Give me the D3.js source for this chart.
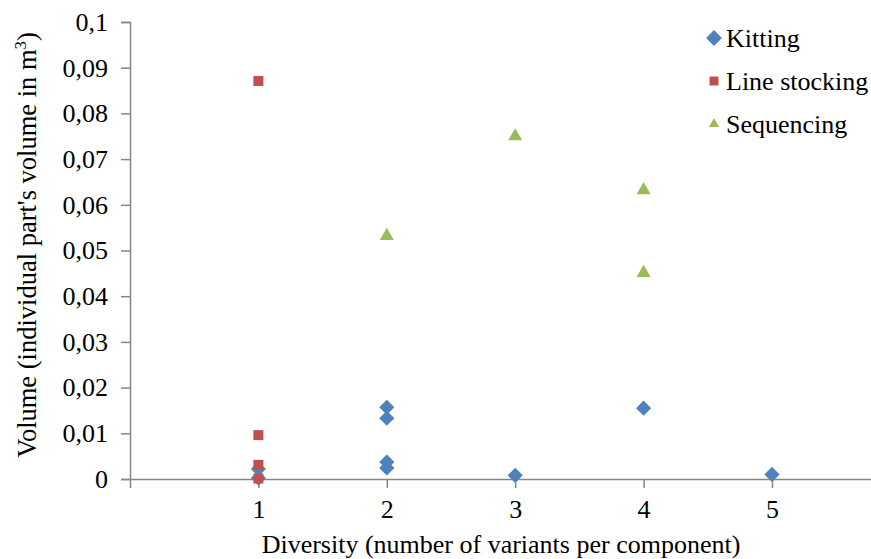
<!DOCTYPE html>
<html>
<head>
<meta charset="utf-8">
<script src="https://cdn.jsdelivr.net/npm/d3@7"></script>
</head>
<body style="margin:0; background:#fff">
<div id="chart"></div>
<script>
//// Data
const series_names = ["Kitting", "Line stocking", "Sequencing"]
const series_colors = ["#4f81bd", "#c0504d", "#9bbb59"]

const kitting = [
    [1, 0.0022], [1, 0.0002],
    [2, 0.0157], [2, 0.0133], [2, 0.0037], [2, 0.0024],
    [3, 0.0008],
    [4, 0.0155],
    [5, 0.0010]
]
const line_stocking = [
    [1, 0.0871], [1, 0.0096], [1, 0.0031], [1, 0.0001]
]
const sequencing = [
    [2, 0.0532], [3, 0.0750], [4, 0.0632], [4, 0.0451]
]
const x_ticks = [1, 2, 3, 4, 5]
const y_ticks = [0, 0.01, 0.02, 0.03, 0.04, 0.05, 0.06, 0.07, 0.08, 0.09, 0.1]

const all_series = [kitting, line_stocking, sequencing]
const AXIS_COLOR = "#868686"
const FONT = "Liberation Serif"

//// Layout
const W = 871, H = 559
const plot = {left: 130, top: 22, bottom: 479}

const svg = d3.select("#chart")
    .append("svg")
        .attr("width", W)
        .attr("height", H)
        .attr("font-family", FONT)

const x = d3.scaleLinear()
    .domain([0, 6])
    .range([plot.left, plot.left + 6 * 128.4])

const y = d3.scaleLinear()
    .domain([0, 0.1])
    .range([plot.bottom, plot.top])

const fmt = d => String(+d.toFixed(2)).replace(".", ",")

// Y axis
const y_axis = svg.append("g")
    .attr("transform", "translate(" + plot.left + ",0)")
    .call(d3.axisLeft(y).tickValues(y_ticks).tickFormat(fmt).tickSize(9).tickPadding(13))
y_axis.attr("font-family", FONT).attr("font-size", 26)
y_axis.select(".domain").attr("stroke", AXIS_COLOR).attr("stroke-width", 1.5)
y_axis.selectAll(".tick line").attr("stroke", AXIS_COLOR).attr("stroke-width", 1.5)
y_axis.selectAll(".tick text").attr("fill", "#000")

// X axis
const x_axis = svg.append("g")
    .attr("transform", "translate(0," + plot.bottom + ")")
    .call(d3.axisBottom(x).tickValues(x_ticks).tickFormat(d3.format("d")).tickSize(9).tickPadding(12))
x_axis.attr("font-family", FONT).attr("font-size", 26)
x_axis.select(".domain").attr("stroke", AXIS_COLOR).attr("stroke-width", 1.5)
x_axis.selectAll(".tick line").attr("stroke", AXIS_COLOR).attr("stroke-width", 1.5)
x_axis.selectAll(".tick text").attr("fill", "#000")

// Axis titles
svg.append("text")
    .attr("text-anchor", "middle")
    .attr("x", 501)
    .attr("y", 553)
    .attr("font-family", FONT)
    .attr("font-size", 26)
    .text("Diversity (number of variants per component)")

const y_title = svg.append("text")
    .attr("text-anchor", "middle")
    .attr("transform", "translate(36,245) rotate(-90)")
    .attr("font-family", FONT)
    .attr("font-size", 26.5)
y_title.append("tspan").text("Volume (individual part's volume in m")
y_title.append("tspan").attr("dy", -10).attr("font-size", 17).text("3")
y_title.append("tspan").attr("dy", 10).text(")")

// Marker shapes (diamond = square turned by 45 degrees)
const square = d3.symbol().type(d3.symbolSquare)
const triangle = d3.symbol().type(d3.symbolTriangle)
const shapes = [
    {path: square.size(115)(), rot: 45},
    {path: square.size(100)(), rot: 0},
    {path: triangle.size(85)(), rot: 0}
]

all_series.forEach((points, i) => {
    svg.append("g")
        .selectAll("path")
            .data(points)
            .enter()
            .append("path")
                .attr("d", shapes[i].path)
                .attr("transform", d => "translate(" + x(d[0]) + "," + y(d[1]) + ") rotate(" + shapes[i].rot + ")")
                .attr("fill", series_colors[i])
})

// Legend
const legend_shapes = [square.size(125)(), square.size(80)(), triangle.size(45)()]
const legend = svg.append("g")
    .selectAll("g")
        .data(series_names)
        .enter()
        .append("g")
            .attr("transform", (d, i) => "translate(714," + (38 + i * 43) + ")")

legend.append("path")
    .attr("d", (d, i) => legend_shapes[i])
    .attr("transform", (d, i) => "rotate(" + shapes[i].rot + ")")
    .attr("fill", (d, i) => series_colors[i])

legend.append("text")
    .attr("x", 12)
    .attr("y", 8.5)
    .attr("font-family", FONT)
    .attr("font-size", 26)
    .text(d => d)
</script>
</body>
</html>
